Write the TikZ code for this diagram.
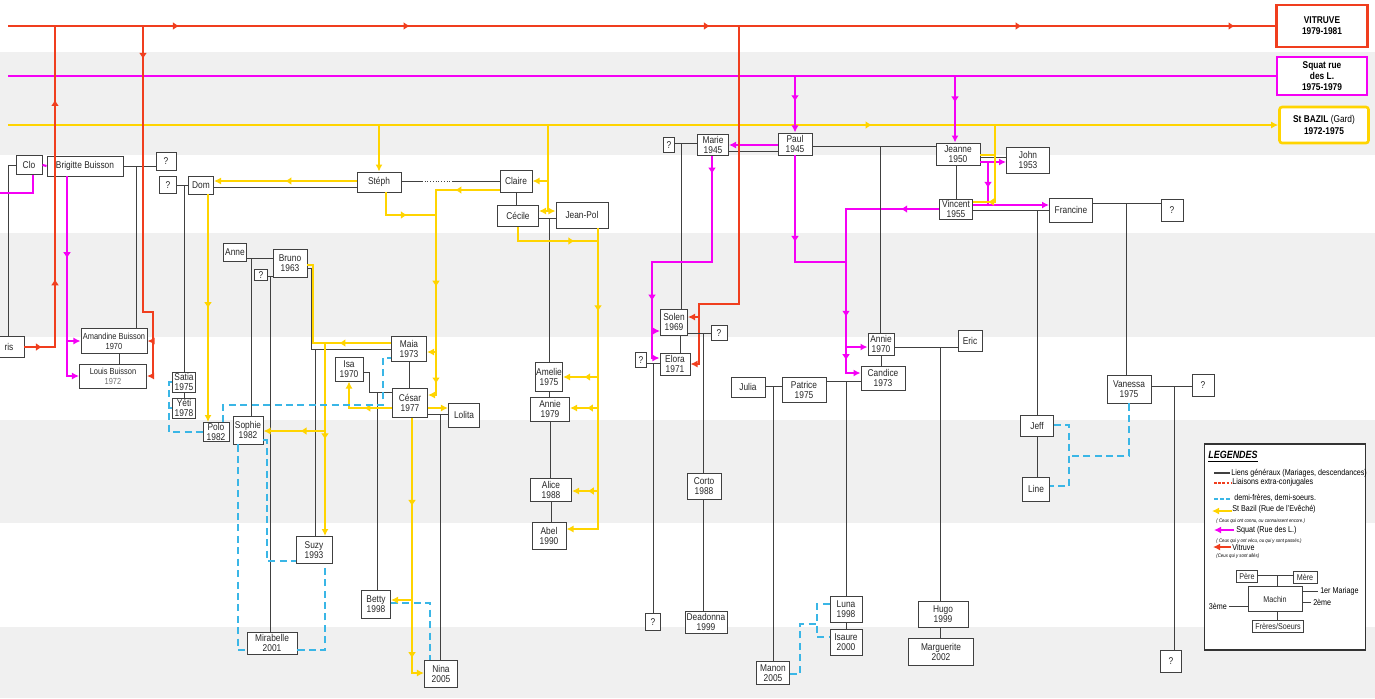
\documentclass[tikz,border=0pt]{standalone}
\usepackage{fontspec}
\setmainfont{Liberation Sans}[FakeStretch=0.85]
\usetikzlibrary{arrows.meta,decorations.markings}
\definecolor{vitred}{RGB}{240,62,30}
\definecolor{squatpink}{RGB}{245,0,245}
\definecolor{bazilyel}{RGB}{255,212,0}
\definecolor{halfblue}{RGB}{58,182,230}
\definecolor{bandgray}{RGB}{240,240,240}
\newcommand\kinfont{\fontsize{5.6}{5.9}\selectfont}
\newcommand\smallkinfont{\fontsize{5}{5.6}\selectfont}
\newcommand\headfont{\fontsize{5.6}{6.4}\selectfont\bfseries}
\newcommand\legfont{\fontsize{4.8}{5.2}\selectfont}
\newcommand\notefont{\fontsize{2.9}{3.2}\selectfont\itshape}

\begin{document}
\begin{tikzpicture}[
  x=0.02cm,y=-0.02cm,
  >={Latex[length=4pt,width=4pt]},
  person/.style 2 args={draw=black!75,fill=white,line width=0.55pt,inner sep=0pt,
    align=center,font=\kinfont,text=black!85,
    minimum width=#1*0.02cm,minimum height=#2*0.02cm},
  headbox/.style 2 args={fill=white,line width=1.5pt,align=center,inner sep=0pt,
    font=\headfont,minimum width=#1*0.02cm,minimum height=#2*0.02cm},
  kin/.style={draw=black!75,line width=0.55pt},
  halfsib/.style={draw=halfblue,line width=1pt,dash pattern=on 4pt off 2.5pt},
  bazil/.style={draw=bazilyel,line width=1.2pt},
  squat/.style={draw=squatpink,line width=1.2pt},
  vitr/.style={draw=vitred,line width=1.2pt},
  flow/.style={postaction={decorate,decoration={markings,
    mark=at position #1 with {\arrow{Latex[length=3.5pt,width=4.5pt]}}}}},
  flow/.default=0.5
]
\useasboundingbox (0,0) rectangle (1375,698);
\clip (0,0) rectangle (1375,698);
\fill[bandgray] (0,52) rectangle (1375,155);
\fill[bandgray] (0,233) rectangle (1375,337);
\fill[bandgray] (0,420) rectangle (1375,523);
\fill[bandgray] (0,627) rectangle (1375,698);

\node[headbox={91}{42},draw=vitred] (hvitruve) at (1322,26) {VITRUVE\\1979-1981};
\node[headbox={90}{38},draw=squatpink] (hsquat) at (1322,76) {Squat rue\\des L.\\1975-1979};
\node[headbox={89}{36},draw=bazilyel,rounded corners=1.5pt] (hbazil) at (1324,125)
  {St BAZIL {\mdseries(Gard)}\\1972-1975};
\coordinate (vitstart) at (8,26);
\coordinate (squatstart) at (8,76);
\coordinate (bazstart) at (8,125);

\node[person={26}{19}] (clo) at (29,165) {Clo};
\node[person={76}{20}] (brigitte) at (85,166) {Brigitte Buisson};
\node[person={20}{18}] (qbrig) at (166,161) {?};
\node[person={30}{21}] (ris) at (9,347) {ris};
\node[person={66}{25},font=\smallkinfont] (amandine) at (114,341) {Amandine Buisson\\1970};
\node[person={67}{24},font=\smallkinfont] (louis) at (113,376)
  {Louis Buisson\\{\color{black!55}1972}};
\node[person={17}{17}] (qdom) at (168,185) {?};
\node[person={25}{18}] (dom) at (201,185) {Dom};
\node[person={44}{20}] (steph) at (379,182) {Stéph};
\node[person={32}{22}] (claire) at (516,181) {Claire};
\node[person={41}{21}] (cecile) at (518,216) {Cécile};
\node[person={52}{26}] (jeanpol) at (582,215) {Jean-Pol};
\node[person={23}{18}] (anne) at (235,252) {Anne};
\node[person={34}{28}] (bruno) at (290,263) {Bruno\\1963};
\node[person={13}{11}] (qbruno) at (261,275) {?};
\node[person={35}{25}] (maia) at (409,349) {Maia\\1973};
\node[person={28}{24}] (isa) at (349,369) {Isa\\1970};
\node[person={35}{29}] (cesar) at (410,403) {César\\1977};
\node[person={31}{24}] (lolita) at (464,415) {Lolita};
\node[person={23}{20}] (satia) at (184,382) {Satia\\1975};
\node[person={23}{20}] (yeti) at (184,408) {Yéti\\1978};
\node[person={26}{19}] (polo) at (216,432) {Polo\\1982};
\node[person={30}{28}] (sophie) at (248,430) {Sophie\\1982};
\node[person={36}{27}] (suzy) at (314,550) {Suzy\\1993};
\node[person={50}{22}] (mirabelle) at (272,643) {Mirabelle\\2001};
\node[person={29}{28}] (betty) at (376,604) {Betty\\1998};
\node[person={33}{27}] (nina) at (441,674) {Nina\\2005};
\node[person={27}{29}] (amelie) at (549,377) {Amelie\\1975};
\node[person={39}{24}] (annieb) at (550,409) {Annie\\1979};
\node[person={41}{23}] (alice) at (551,490) {Alice\\1988};
\node[person={34}{27}] (abel) at (549,536) {Abel\\1990};

\node[person={11}{15}] (qmarie) at (669,145) {?};
\node[person={31}{21}] (marie) at (713,145) {Marie\\1945};
\node[person={34}{22}] (paul) at (795,144) {Paul\\1945};
\node[person={27}{26}] (solen) at (674,322) {Solen\\1969};
\node[person={16}{15}] (qsolen) at (719,333) {?};
\node[person={11}{15}] (qelora) at (641,360) {?};
\node[person={30}{22}] (elora) at (675,364) {Elora\\1971};
\node[person={34}{26}] (corto) at (704,486) {Corto\\1988};
\node[person={15}{17}] (qcorto) at (653,622) {?};
\node[person={42}{22}] (deadonna) at (706,622) {Deadonna\\1999};
\node[person={34}{20}] (julia) at (748,387) {Julia};
\node[person={44}{25}] (patrice) at (804,390) {Patrice\\1975};
\node[person={26}{22}] (anniec) at (881,344) {Annie\\1970};
\node[person={44}{24}] (candice) at (883,378) {Candice\\1973};
\node[person={24}{21}] (eric) at (970,341) {Eric};
\node[person={44}{22}] (jeanne) at (958,154) {Jeanne\\1950};
\node[person={43}{26}] (john) at (1028,160) {John\\1953};
\node[person={33}{20}] (vincent) at (956,209) {Vincent\\1955};
\node[person={43}{24}] (francine) at (1071,210) {Francine};
\node[person={22}{22}] (qfran) at (1172,210) {?};
\node[person={44}{28}] (vanessa) at (1129,389) {Vanessa\\1975};
\node[person={22}{22}] (qvan) at (1203,385) {?};
\node[person={33}{21}] (jeff) at (1037,426) {Jeff};
\node[person={27}{24}] (linekid) at (1036,489) {Line};
\node[person={21}{22}] (qvanb) at (1171,661) {?};
\node[person={32}{26}] (luna) at (846,609) {Luna\\1998};
\node[person={32}{26}] (isaure) at (846,642) {Isaure\\2000};
\node[person={33}{23}] (manon) at (773,673) {Manon\\2005};
\node[person={50}{26}] (hugo) at (943,614) {Hugo\\1999};
\node[person={65}{27}] (marguerite) at (941,652) {Marguerite\\2002};

\draw[vitr,flow=0.135,flow=0.317,flow=0.554,flow=0.8,flow=0.968] (vitstart) -- (hvitruve.west);
\draw[squat] (squatstart) -- (hsquat.west);
\draw[bazil,->,flow=0.68] (bazstart) -- (hbazil.west);

\draw[kin] (clo.west) -| (ris.north -| 8,0);
\draw[squat] (clo.east) -- (brigitte.west);
\draw[squat] (-5,193) -| (clo.south -| 33,0);
\draw[kin] (brigitte.east) -- (qbrig.west |- brigitte.east);
\draw[kin] (brigitte.east -| 136,0) -- (amandine.north -| 136,0);
\draw[kin] (amandine.south -| 119,0) -- (louis.north -| 119,0);
\draw[squat,->,flow=0.46] (brigitte.south -| 67,0) |- (amandine.west);
\draw[squat,->] (amandine.west -| 67,0) |- (louis.west);
\draw[vitr,flow=0.05,flow=0.28,flow=0.79] (ris.east) -| (hvitruve.west -| 55,0);
\draw[vitr,->,flow=0.1] (hvitruve.west -| 143,0) -- (143,312) -- (153,312) |- (amandine.east);
\draw[vitr,->] (153,341) |- (louis.east);

\draw[kin] (qdom.east) -- (dom.west |- qdom.east);
\draw[kin] (qdom.east -| 184,0) -- (satia.north -| 184,0);
\draw[kin] (satia) -- (yeti);
\draw[kin] (dom.east |- 0,187) -- (steph.west |- 0,187);
\draw[bazil,->,flow=0.5] (steph.west |- 0,181) -- (dom.east |- 0,181);
\draw[kin] (polo.north -| 219,187) -- (polo.north -| 219,0);
\draw[bazil,->,flow=0.5] (dom.south -| 208,0) -- (polo.north -| 208,0);
\draw[kin] (steph.east |- 0,181) -- (422,181);
\draw[kin,densely dotted] (422,181) -- (453,181);
\draw[kin] (453,181) -- (claire.west |- 0,181);
\draw[kin] (maia.north -| 411,181) -- (maia.north -| 411,0);
\draw[kin] (maia.south -| 409,0) -- (cesar.north -| 409,0);
\draw[bazil,->] (hbazil.west -| steph.north) -- (steph.north);
\draw[bazil,flow=0.6] (steph.south -| 386,0) |- (436,215);
\draw[bazil,->,flow=0.16,flow=0.58,flow=0.93] (claire.west |- 0,190) -| (436,395) -- (cesar.east |- 0,395);
\draw[bazil,->] (436,352) -- (maia.east |- 0,352);
\draw[bazil,->] (hbazil.west -| 548,0) |- (claire.east);
\draw[bazil,->] (548,181) |- (cecile.east |- 0,211);
\draw[bazil,->] (548,211) -- (jeanpol.west |- 0,211);
\draw[kin] (claire.south) -- (cecile.north -| claire.south);
\draw[kin] (cecile.east |- 0,218) -- (jeanpol.west |- 0,218);
\draw[kin] (549,218) -- (amelie.north -| 549,0);
\draw[kin] (amelie) -- (annieb.north -| amelie.south);
\draw[kin] (annieb) -- (alice.north -| annieb.south);
\draw[kin] (alice) -- (abel.north -| alice.south);
\draw[bazil,flow=0.75] (cecile.south -| 518,0) |- (598,241);
\draw[bazil,->,flow=0.25] (jeanpol.south -| 598,0) |- (abel.east |- 0,529);
\draw[bazil,->,flow=0.4] (598,377) -- (amelie.east |- 0,377);
\draw[bazil,->,flow=0.4] (598,408) -- (annieb.east |- 0,408);
\draw[bazil,->,flow=0.4] (598,491) -- (alice.east |- 0,491);

\draw[kin] (anne.east |- 0,258) -- (bruno.west |- 0,258);
\draw[kin] (251,258) -- (sophie.north -| 251,0);
\draw[kin] (qbruno.east |- 0,276) -- (bruno.west |- 0,276);
\draw[kin] (270,276) -- (mirabelle.north -| 270,0);
\draw[kin] (bruno.east |- 0,268) -| (311,349) -- (maia.west |- 0,349);
\draw[kin] (315,349) -- (suzy.north -| 315,0);
\draw[bazil,flow=0.32] (maia.west |- 0,343) -| (313,265) -- (bruno.east |- 0,265);
\draw[bazil,->,flow=0.5] (325,343) -- (suzy.north -| 325,0);
\draw[bazil,->,flow=0.4] (325,431) -- (sophie.east |- 0,431);
\draw[kin] (isa.east |- 0,372) -| (369,392) -- (cesar.west |- 0,392);
\draw[kin] (377,392) -- (betty.north -| 377,0);
\draw[bazil,->,flow=0.4] (cesar.west |- 0,408) -| (isa.south);
\draw[halfsib] (polo.north -| 223,0) |- (383,405) |- (maia.west |- 0,358);
\draw[halfsib] (satia.west) -| (169,432) -- (polo.west |- 0,432);
\draw[halfsib] (yeti.west) -- (yeti.west -| 169,0);
\draw[halfsib] (sophie.east |- 0,440) -| (267,561) -- (suzy.west |- 0,561);
\draw[halfsib] (sophie.south -| 238,0) |- (mirabelle.west |- 0,650);
\draw[halfsib] (mirabelle.east |- 0,650) -| (suzy.south -| 325,0);
\draw[halfsib] (betty.east |- 0,603) -| (nina.north -| 430,0);
\draw[bazil,->,flow=0.33,flow=0.9] (cesar.south -| 412,0) |- (nina.west |- 0,673);
\draw[bazil,->] (412,600) -- (betty.east |- 0,600);
\draw[bazil,->] (cesar.east |- 0,408) -- (lolita.west |- 0,408);
\draw[kin] (cesar.east |- 0,414) -- (lolita.west |- 0,414);
\draw[kin] (440,414) -- (nina.north -| 440,0);

\draw[kin] (qmarie.east |- 0,143) -- (marie.west |- 0,143);
\draw[kin] (681,143) -- (solen.north -| 681,0);
\draw[kin] (solen.south -| 680,0) -- (elora.north -| 680,0);
\draw[kin] (paul.west |- 0,151) -- (marie.east |- 0,151);
\draw[squat,->] (paul.west |- 0,145) -- (marie.east |- 0,145);
\draw[squat,->,flow=0.066,flow=0.76] (marie.south -| 712,0) |- (652,262) |- (elora.west |- 0,358);
\draw[squat,->] (652,331) -- (solen.west |- 0,331);
\draw[squat,->,flow=0.45] (hsquat.west -| paul.north) -- (paul.north);
\draw[squat,flow=0.55] (paul.south) |- (846,262);
\draw[squat,->,flow=0.14,flow=0.74,flow=0.9] (vincent.west) -| (846,373) -- (candice.west |- 0,373);
\draw[squat,->] (846,347) -- (anniec.west |- 0,347);
\draw[vitr,->] (hvitruve.west -| 739,0) |- (699,304) |- (solen.east |- 0,317);
\draw[vitr,->] (699,317) |- (elora.east |- 0,364);
\draw[kin] (solen.east |- 0,333) -- (qsolen.west |- 0,333);
\draw[kin] (703,333) -- (corto.north -| 703,0);
\draw[kin] (corto.south -| 703,0) -- (deadonna.north -| 703,0);
\draw[kin] (qelora.east |- 0,363) -- (elora.west |- 0,363);
\draw[kin] (653,363) -- (qcorto.north -| 653,0);
\draw[kin] (paul.east |- 0,146) -- (jeanne.west |- 0,146);
\draw[kin] (880,146) -- (anniec.north -| 880,0);
\draw[kin] (anniec) -- (candice.north -| anniec.south);
\draw[kin] (julia.east |- 0,386) -- (patrice.west |- 0,386);
\draw[kin] (773,386) -- (manon.north -| 773,0);
\draw[kin] (patrice.east |- 0,381) -- (candice.west |- 0,381);
\draw[kin] (846,381) -- (luna.north -| 846,0);
\draw[kin] (luna) -- (isaure);
\draw[kin] (anniec.east |- 0,347) -- (eric.west |- 0,347);
\draw[kin] (940,347) -- (hugo.north -| 940,0);
\draw[kin] (hugo.south -| 940,0) -- (marguerite.north -| 940,0);
\draw[halfsib] (luna.west |- 0,604) -| (817,637) -- (isaure.west |- 0,637);
\draw[halfsib] (manon.east |- 0,674) -| (800,624) -- (817,624);

\draw[squat,->,flow=0.4] (hsquat.west -| 955,0) -- (jeanne.north -| 955,0);
\draw[kin] (jeanne.south -| 956,0) -- (vincent.north -| 956,0);
\draw[kin] (jeanne.east |- 0,157) -- (john.west |- 0,157);
\draw[squat,->] (jeanne.east |- 0,162) -- (john.west |- 0,162);
\draw[squat,->,flow=0.25] (988,162) |- (francine.west |- 0,205);
\draw[squat] (vincent.east |- 0,205) -- (988,205);
\draw[bazil,flow=0.85] (hbazil.west -| 995,0) |- (vincent.east |- 0,202);
\draw[bazil] (995,155) -- (jeanne.east |- 0,155);
\draw[kin] (vincent.east |- 0,210) -- (francine.west |- 0,210);
\draw[kin] (1037,210) -- (jeff.north -| 1037,0);
\draw[kin] (jeff.south -| 1037,0) -- (linekid.north -| 1037,0);
\draw[kin] (francine.east |- 0,203) -- (qfran.west |- 0,203);
\draw[kin] (1126,203) -- (vanessa.north -| 1126,0);
\draw[kin] (vanessa.east |- 0,386) -- (qvan.west |- 0,386);
\draw[kin] (1174,386) -- (qvanb.north -| 1174,0);
\draw[halfsib] (vanessa.south -| 1129,0) |- (1069,456);
\draw[halfsib] (jeff.east |- 0,425) -| (1069,486) -- (linekid.east |- 0,486);

\node[draw=black!80,line width=0.8pt,fill=white,minimum width=161*0.02cm,
  minimum height=206*0.02cm] (legend) at (1285,547) {};
\node[anchor=west,font=\fontsize{6}{6}\selectfont\bfseries\itshape,inner sep=0pt]
  (legtitle) at (1208,457) {\underline{LEGENDES}};
\draw[kin,line width=0.8pt] (1214,473) -- (1230,473);
\node[anchor=west,font=\legfont,inner sep=0pt] at (1231,473) {Liens généraux (Mariages, descendances)};
\draw[vitred,line width=0.8pt,dash pattern=on 1.6pt off 0.8pt] (1214,483) -- (1231,483);
\node[anchor=west,font=\legfont,inner sep=0pt] at (1232,482) {Liaisons extra-conjugales};
\draw[halfblue,line width=0.8pt,dash pattern=on 2pt off 1.5pt] (1214,499) -- (1231,499);
\node[anchor=west,font=\legfont,inner sep=0pt] at (1234,498) {demi-frères, demi-soeurs.};
\draw[bazil,->] (1232,511) -- (1212,511);
\node[anchor=west,font=\legfont,inner sep=0pt] at (1232,509) {St Bazil (Rue de l'Evêché)};
\node[anchor=west,font=\notefont,inner sep=0pt] at (1216,521) {( Ceux qui ont connu, ou connaissent encore.)};
\draw[squat,->] (1234,530) -- (1214,530);
\node[anchor=west,font=\legfont,inner sep=0pt] at (1236,530) {Squat (Rue des L.)};
\node[anchor=west,font=\notefont,inner sep=0pt] at (1216,541) {( Ceux qui y ont vécu, ou qui y sont passés.)};
\draw[vitr,->] (1231,547) -- (1213,547);
\node[anchor=west,font=\legfont,inner sep=0pt] at (1232,547) {Vitruve};
\node[anchor=west,font=\notefont,inner sep=0pt] at (1216,556) {(Ceux qui y sont allés)};
\node[person={21}{12},font=\legfont] (pere) at (1247,576) {Père};
\node[person={24}{12},font=\legfont] (mere) at (1305,577) {Mère};
\node[person={54}{25},font=\legfont] (machin) at (1275,599) {Machin};
\node[person={51}{12},font=\legfont] (freres) at (1278,626) {Frères/Soeurs};
\draw[kin] (pere.east |- 0,575) -- (mere.west |- 0,575);
\draw[kin] (1277,575) -- (machin.north -| 1277,0);
\draw[kin] (machin.south -| 1277,0) -- (freres.north -| 1277,0);
\draw[kin] (machin.east |- 0,591) -- (1318,591)
  node[anchor=west,font=\legfont,inner sep=1pt] {1er Mariage};
\draw[kin] (machin.east |- 0,602) -- (1311,602)
  node[anchor=west,font=\legfont,inner sep=1pt] {2ème};
\draw[kin] (machin.west |- 0,606) -- (1229,606)
  node[anchor=east,font=\legfont,inner sep=1pt] {3ème};
\end{tikzpicture}
\end{document}
